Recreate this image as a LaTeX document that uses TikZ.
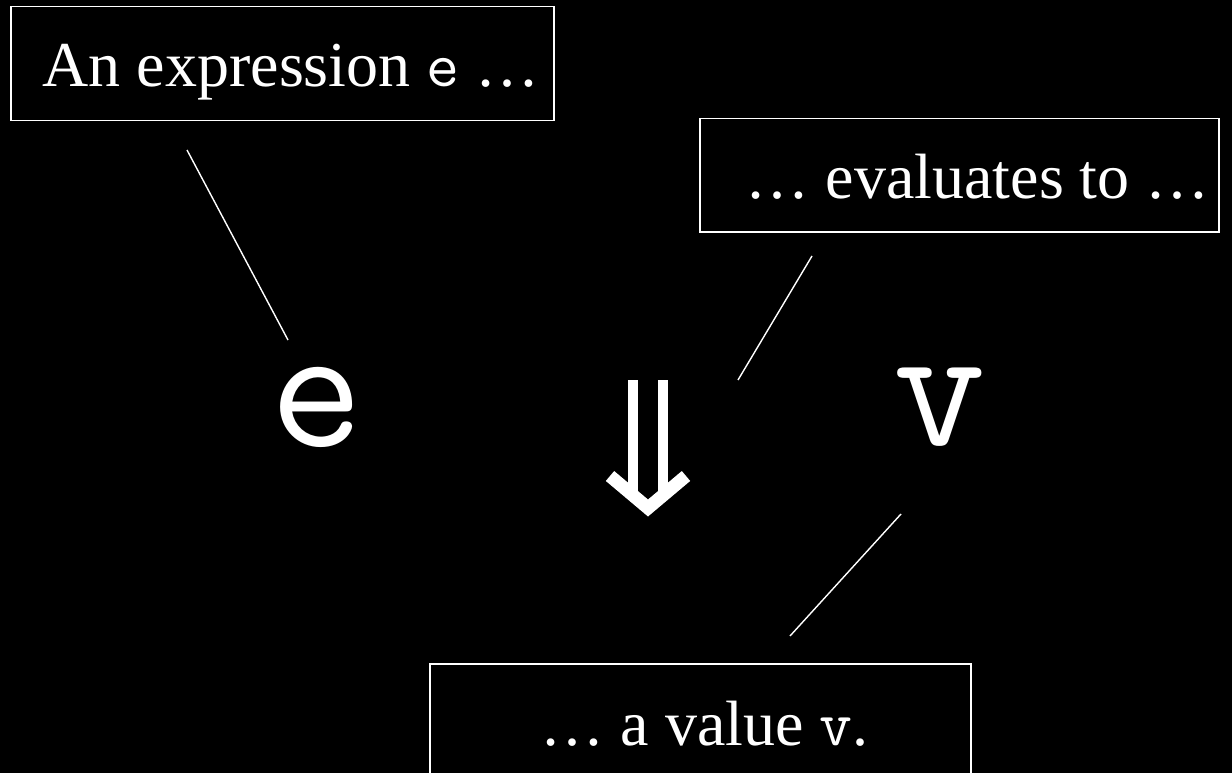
\documentclass[tikz,border=0pt]{standalone}
\usepackage{fontspec}
\setmainfont{Liberation Serif}
\begin{document}
\begin{tikzpicture}[x=1pt,y=-1pt,
  box/.style={draw=white, line width=1.5pt, text=white, inner sep=0pt,
    font=\fontsize{64}{68}\selectfont, anchor=north west},
  link/.style={draw=white, line width=1.4pt},
  big/.style={text=white, inner sep=0pt, font=\ttfamily\fontsize{180}{180}\selectfont},
  arrowbar/.style={draw=white, line width=10pt},
  arrowhead/.style={draw=white, line width=13pt, miter limit=10}]
\fill[black] (0,0) rectangle (1232,773);
\useasboundingbox (0,0) rectangle (1232,773);
\clip (0,0) rectangle (1232,773);
% boxes
\node[box, text height=80pt, text depth=34pt] (expr) at (10,6)
  {\makebox[543pt][l]{\hspace*{32pt}An expression {\ttfamily e} …}};
\node[box, text height=80pt, text depth=33pt] (eval) at (699,118)
  {\makebox[519pt][l]{\hspace*{46pt}… evaluates to …}};
\node[box, text height=82pt, text depth=60pt] (val) at (429,663)
  {\makebox[541pt][l]{\hspace*{111pt}… a value {\ttfamily v}.}};
% symbols
\node[big] (e) at (317,407) {e};
\node[big] (v) at (940,407) {v};
% double arrow
\coordinate (arr) at (648,450);
\draw[arrowbar] (632.5,380) -- (632.5,500);
\draw[arrowbar] (663,380) -- (663,500);
\draw[arrowhead] (610,476) -- (648,508) -- (686,476);
% connectors
\coordinate (l1a) at (187,150);
\coordinate (l1b) at (288,340);
\coordinate (l2a) at (812,256);
\coordinate (l2b) at (738,380);
\coordinate (l3a) at (901,514);
\coordinate (l3b) at (790,636);
\draw[link] (l1a) -- (l1b);
\draw[link] (l2a) -- (l2b);
\draw[link] (l3a) -- (l3b);
\end{tikzpicture}
\end{document}
